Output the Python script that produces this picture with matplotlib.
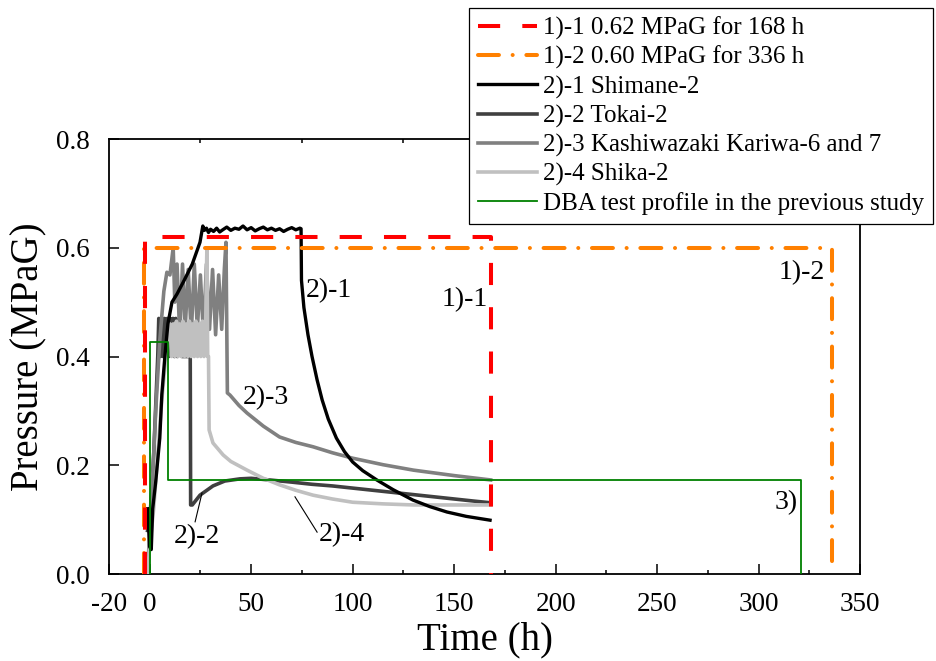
import numpy as np
import matplotlib
matplotlib.use("Agg")
import matplotlib.pyplot as plt
from matplotlib.ticker import MultipleLocator

plt.rcParams['font.family'] = ['Liberation Serif', 'DejaVu Serif']
plt.rcParams['axes.unicode_minus'] = False

# 1)-1 and 1)-2 : constant pressure test conditions
t_11 = [-2.2, -2.2, 168, 168]
p_11 = [0.0, 0.62, 0.62, 0.0]
t_12 = [-3, -3, 336, 336]
p_12 = [0.0, 0.60, 0.60, 0.0]

# 2)-1 Shimane-2
t_21 = [-1, 0, 0.8, 1.5, 3, 4, 5, 6, 7.5, 9, 11, 13.5, 17, 21, 24.8, 25.5, 26.2,
        27, 28, 29, 30, 31.5, 33, 34.5, 36, 38, 40, 42, 44, 46, 48, 50, 52, 54,
        56, 58, 60, 62, 64, 66, 68, 70, 72, 74, 74.6, 74.8, 76, 78, 80, 82.5, 85,
        88, 92, 96, 100, 105, 111.9, 120, 129.7, 138, 146.5, 156, 167.7]
p_21 = [0.12, 0.05, 0.045, 0.12, 0.17, 0.21, 0.25, 0.33, 0.40, 0.46, 0.50, 0.515,
        0.54, 0.57, 0.61, 0.625, 0.64, 0.632, 0.636, 0.628, 0.634, 0.630, 0.636,
        0.629, 0.633, 0.638, 0.632, 0.636, 0.634, 0.640, 0.633, 0.637, 0.631,
        0.635, 0.638, 0.633, 0.636, 0.632, 0.635, 0.630, 0.634, 0.637, 0.633,
        0.636, 0.635, 0.54, 0.49, 0.44, 0.40, 0.357, 0.32, 0.285, 0.25, 0.225,
        0.206, 0.19, 0.173, 0.155, 0.136, 0.124, 0.114, 0.106, 0.099]

# 2)-2 Tokai-2
t_22 = [-1, 0, 1, 2, 3, 4, 4.5, 5.2, 5.9, 6.6, 7.3, 8, 8.7, 9.4, 10.1, 10.8, 11.5,
        12.2, 12.9, 13.6, 14.3, 16, 18, 20, 20.2, 21, 24.8, 31.2, 37, 44.5, 50,
        59, 70, 80, 90, 100, 115, 130, 145, 160, 168]
p_22 = [0.08, 0.10, 0.15, 0.22, 0.31, 0.40, 0.47, 0.40, 0.47, 0.40, 0.47, 0.41,
        0.47, 0.40, 0.47, 0.41, 0.47, 0.40, 0.47, 0.40, 0.46, 0.40, 0.40, 0.40,
        0.127, 0.127, 0.145, 0.162, 0.171, 0.175, 0.176, 0.173, 0.169, 0.165,
        0.162, 0.158, 0.152, 0.146, 0.140, 0.134, 0.131]

# 2)-3 Kashiwazaki Kariwa-6 and 7
t_23 = [-1, 0, 1.5, 3, 5, 7, 8.5, 10, 11.6, 12.4, 13.5, 14.8, 16.2, 17.5, 19,
        20.5, 22, 23.5, 25, 26.5, 28, 29.5, 31, 32.5, 34, 35.5, 36.8, 37.6, 38,
        38.3, 39.6, 44, 48, 56, 64, 72, 80.5, 90, 100, 115, 130, 150, 168]
p_23 = [0.0, 0.08, 0.18, 0.30, 0.43, 0.52, 0.555, 0.55, 0.60, 0.50, 0.57, 0.44,
        0.57, 0.45, 0.56, 0.44, 0.57, 0.45, 0.55, 0.44, 0.57, 0.45, 0.56, 0.44,
        0.55, 0.45, 0.56, 0.61, 0.45, 0.333, 0.329, 0.31, 0.296, 0.272, 0.252,
        0.242, 0.234, 0.223, 0.213, 0.201, 0.191, 0.181, 0.173]

# 2)-4 Shika-2
t_24 = [-1, 0, 2, 4, 6, 8, 9, 10, 10.8, 11.6, 12.4, 13.2, 14, 14.8, 15.6, 16.4,
        17.2, 18, 18.8, 19.6, 20.4, 21.2, 22, 22.8, 23.6, 24.4, 25.2, 26, 26.8,
        27.6, 28.2, 28.6, 29, 29.3, 31.2, 36.2, 40, 48, 56, 64, 72, 80.5, 90, 100,
        115, 130, 150, 168]
p_24 = [0.0, 0.05, 0.12, 0.22, 0.32, 0.40, 0.44, 0.46, 0.40, 0.46, 0.40, 0.465,
        0.40, 0.46, 0.40, 0.465, 0.40, 0.46, 0.40, 0.465, 0.40, 0.46, 0.40, 0.465,
        0.40, 0.46, 0.40, 0.465, 0.40, 0.46, 0.60, 0.40, 0.40, 0.265, 0.241, 0.219,
        0.207, 0.191, 0.176, 0.164, 0.154, 0.145, 0.138, 0.132, 0.129, 0.127,
        0.127, 0.127]

# 3) DBA test profile in the previous study
t_3 = [0, 0, 9, 9, 321, 321]
p_3 = [0.0, 0.427, 0.427, 0.173, 0.173, 0.0]

legend_labels = ['1)-1 0.62 MPaG for 168 h', '1)-2 0.60 MPaG for 336 h',
                 '2)-1 Shimane-2', '2)-2 Tokai-2',
                 '2)-3 Kashiwazaki Kariwa-6 and 7', '2)-4 Shika-2',
                 'DBA test profile in the previous study']

fig = plt.figure(figsize=(9.36, 6.61), dpi=100)
ax = fig.add_axes([0.1165, 0.1316, 0.8024, 0.6581])

h11, = ax.plot(t_11, p_11, color='#ff0000', lw=2.9, ls=(0, (5.5, 5.5)), zorder=8)
h12, = ax.plot(t_12, p_12, color='#ff8000', lw=2.9, ls=(0, (5.2, 3.4, 0.01, 3.4)),
               dash_capstyle='round', zorder=7)
h21, = ax.plot(t_21, p_21, color='black', lw=2.4, zorder=5)
h22, = ax.plot(t_22, p_22, color='#404040', lw=2.6, zorder=2)
h23, = ax.plot(t_23, p_23, color='#808080', lw=2.6, zorder=3)
h24, = ax.plot(t_24, p_24, color='#c0c0c0', lw=2.6, zorder=4)
h3, = ax.plot(t_3, p_3, color='#008000', lw=1.3, zorder=6)

ax.set_xlim(-20, 350)
ax.set_ylim(0, 0.8)
ax.xaxis.set_minor_locator(MultipleLocator(25))
ax.yaxis.set_major_locator(MultipleLocator(0.2))
ax.set_xticks([-20, 0, 50, 100, 150, 200, 250, 300, 350])
ax.yaxis.set_major_formatter(matplotlib.ticker.FormatStrFormatter('%.1f'))
ax.tick_params(axis='x', which='major', direction='in', length=7, width=1.1,
               labelsize=19.5, pad=13)
ax.tick_params(axis='x', which='minor', direction='in', length=3, width=1.1, top=True)
ax.tick_params(axis='y', which='major', direction='in', length=7, width=1.1,
               labelsize=19.5, pad=14)
for s in ax.spines.values():
    s.set_linewidth(1.3)

ax.set_xlabel('Time (h)', fontsize=28)
ax.set_ylabel('Pressure (MPaG)', fontsize=28)
ax.xaxis.set_label_coords(0.5, -0.11)
ax.yaxis.set_label_coords(-0.082, 0.5)

# curve labels
ax.text(88.4, 0.522, '2)-1', fontsize=20, ha='center', va='center')
ax.text(155.4, 0.504, '1)-1', fontsize=20, ha='center', va='center')
ax.text(321.4, 0.554, '1)-2', fontsize=20, ha='center', va='center')
ax.text(313.5, 0.132, '3)', fontsize=20, ha='center', va='center')
ax.text(57.5, 0.324, '2)-3', fontsize=20, ha='center', va='center')
ax.text(23.4, 0.068, '2)-2', fontsize=20, ha='center', va='center')
ax.text(94.6, 0.072, '2)-4', fontsize=20, ha='center', va='center')
ax.plot([22.4, 25.8], [0.096, 0.149], color='black', lw=0.8, zorder=9)
ax.plot([82.5, 71.6], [0.077, 0.142], color='black', lw=0.8, zorder=9)

leg = fig.legend([h11, h12, h21, h22, h23, h24, h3], legend_labels,
                 loc='upper right', bbox_to_anchor=(0.9968, 0.988),
                 bbox_transform=fig.transFigure, fontsize=18, frameon=True,
                 fancybox=False, framealpha=1, edgecolor='black',
                 borderpad=0.35, labelspacing=0.24, handlelength=2.36,
                 handletextpad=0.24, borderaxespad=0)
leg.get_frame().set_linewidth(0.9)

fig.savefig('out.png', dpi=100)
